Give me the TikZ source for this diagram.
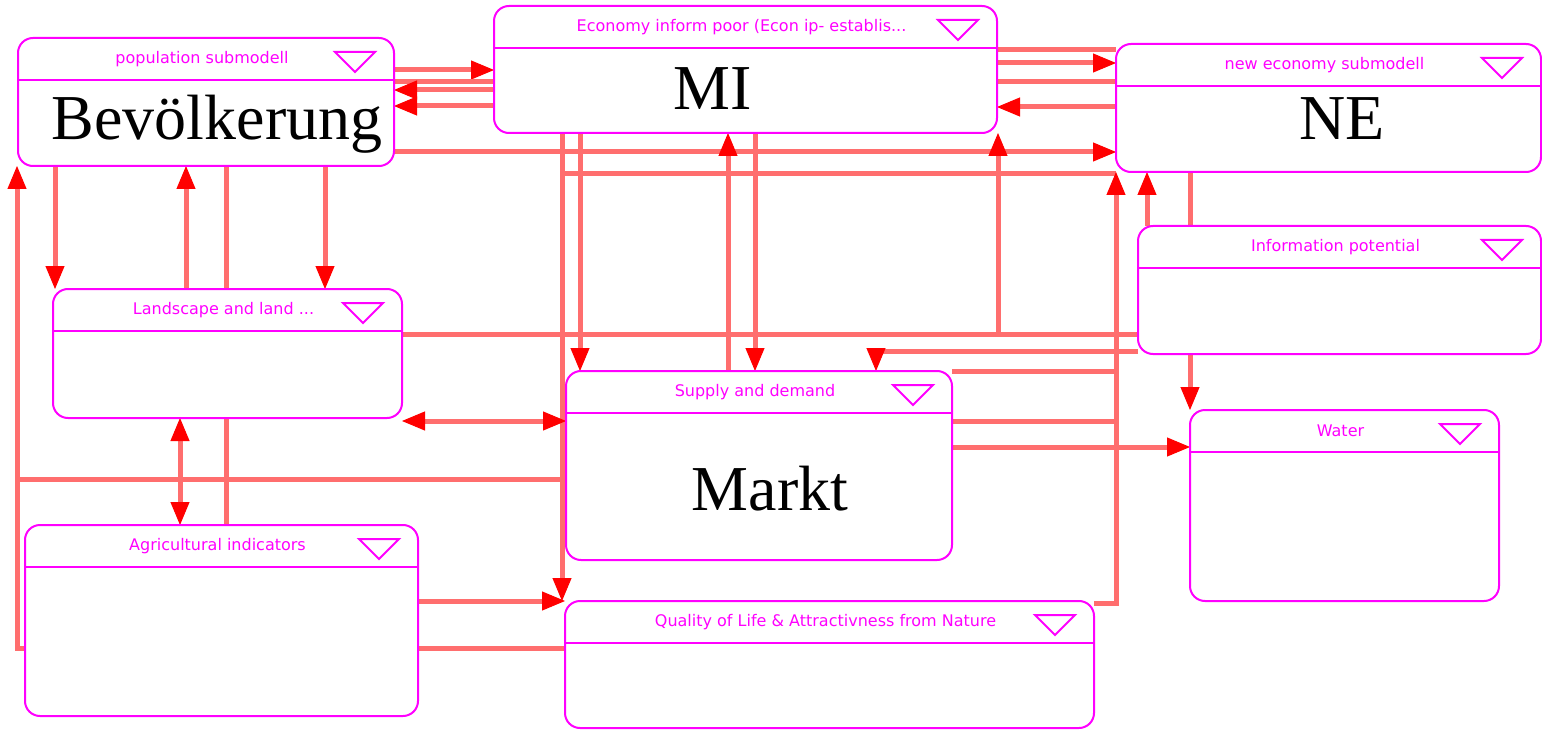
\documentclass[tikz,border=0pt]{standalone}
\usepackage{fontspec}
\setmainfont{Liberation Serif}
\newfontfamily\labfont{DejaVu Sans}
\usetikzlibrary{arrows.meta}
\definecolor{mag}{RGB}{255,0,255}
\definecolor{lnk}{RGB}{255,110,110}
\definecolor{tipred}{RGB}{255,0,0}
\pgfdeclarelayer{bg}
\pgfsetlayers{bg,main}
\tikzset{
  subm/.style={draw=mag, line width=2pt, fill=white, rounded corners=15pt, inner sep=0pt, outer sep=0pt},
  magline/.style={draw=mag, line width=2pt},
  ttl/.style={font=\labfont\fontsize{16}{18}\selectfont, text=mag, inner sep=0pt},
  big/.style={font=\fontsize{64}{70}\selectfont, inner sep=0pt, anchor=base},
  conn/.style={draw=lnk, line width=5pt},
  arr/.style={-{Triangle[length=23pt,width=19pt,line width=1pt,color=tipred]}},
  darr/.style={{Triangle[length=23pt,width=19pt,line width=1pt,color=tipred]}-{Triangle[length=23pt,width=19pt,line width=1pt,color=tipred]}}
}
\newcommand\submod[6]{%
  \node[subm, minimum width=#4pt, minimum height=#5pt] (#1) at (#2,#3) {};
  \draw[magline] ([yshift=-42pt]#1.north west) -- ([yshift=-42pt]#1.north east);
  \node[ttl] (#1-t) at ([xshift=-4pt,yshift=-21pt]#1.north) {#6};
  \draw[magline] ([xshift=-59pt,yshift=-14pt]#1.north east) -- ++(40pt,0) -- ++(-20pt,-20pt) -- cycle;
}
\begin{document}
\begin{tikzpicture}[x=1pt,y=-1pt]
\useasboundingbox (0,0) rectangle (1542,730);
% boxes
\submod{pop}{206}{102}{376}{128}{population submodell}
\submod{mi}{745.5}{69.5}{503}{127}{Economy inform poor (Econ ip- establis...}
\submod{ne}{1328.5}{108}{425}{128}{new economy submodell}
\submod{land}{227.5}{353.5}{349}{129}{Landscape and land ...}
\submod{info}{1339.5}{290}{403}{128}{Information potential}
\submod{sd}{759}{465.5}{386}{189}{Supply and demand}
\submod{water}{1344.5}{505.5}{309}{191}{Water}
\submod{agri}{221.5}{620.5}{393}{191}{Agricultural indicators}
\submod{qual}{829.5}{664.5}{529}{127}{Quality of Life \& Attractivness from Nature}
% big labels
\node[big] (bev) at (217,140) {Bevölkerung};
\node[big] (mitx) at (713,110) {MI};
\node[big] (netx) at (1342,140) {NE};
\node[big] (markt) at (770,510) {Markt};
% junction coordinates
\coordinate (j1) at (562,174);
\coordinate (jne1) at (1116,174);
\coordinate (jne2) at (1116,371);
\coordinate (jne3) at (1116,421);
\coordinate (j4) at (998,334);
\coordinate (jl1) at (17,479);
\coordinate (jl2) at (562,479);
\begin{pgfonlayer}{bg}
% population <-> MI
\draw[conn,arr] (pop.east |- 0,70) -- (mi.west |- 0,70);
\draw[conn] (pop.east |- 0,82) -- (mi.west |- 0,82);
\draw[conn,arr] (mi.west |- 0,90) -- (pop.east |- 0,90);
\draw[conn,arr] (mi.west |- 0,106) -- (pop.east |- 0,106);
\draw[conn,arr] (pop.east |- 0,152) -- (ne.west |- 0,152);
% MI <-> NE
\draw[conn] (mi.east |- 0,50) -- (ne.west |- 0,50);
\draw[conn,arr] (mi.east |- 0,63) -- (ne.west |- 0,63);
\draw[conn] (mi.east |- 0,82) -- (ne.west |- 0,82);
\draw[conn,arr] (ne.west |- 0,107) -- (mi.east |- 0,107);
% MI bottom
\draw[conn,arr] (562,0 |- mi.south) -- (562,0 |- qual.north);
\draw[conn,arr] (580,0 |- mi.south) -- (580,0 |- sd.north);
\draw[conn,arr] (755,0 |- mi.south) -- (755,0 |- sd.north);
\draw[conn,arr] (728,0 |- sd.north) -- (728,0 |- mi.south);
\draw[conn] (j1) -- (jne1);
\draw[conn,arr] ([yshift=-2pt]qual.north east) -| (1116,0 |- ne.south);
\draw[conn] (sd.east |- 0,371) -- (jne2);
\draw[conn] (sd.east |- 0,421) -- (jne3);
\draw[conn,arr] (sd.east |- 0,447) -- (water.west |- 0,447);
% information potential
\draw[conn] (land.east |- 0,334) -- (info.west |- 0,334);
\draw[conn,arr] (j4) -- (998,0 |- mi.south);
\draw[conn,arr] (info.west |- 0,351) -| (876,0 |- sd.north);
\draw[conn,arr] (1147,0 |- info.north) -- (1147,0 |- ne.south);
\draw[conn,arr] (1190,0 |- ne.south) -- (1190,0 |- water.north);
% left side
\draw[conn,arr] (55,0 |- pop.south) -- (55,0 |- land.north);
\draw[conn,arr] (186,0 |- land.north) -- (186,0 |- pop.south);
\draw[conn] (226,0 |- pop.south) -- (226,0 |- agri.north);
\draw[conn,arr] (325,0 |- pop.south) -- (325,0 |- land.north);
\draw[conn,darr] (180,0 |- land.south) -- (180,0 |- agri.north);
\draw[conn,darr] (land.east |- 0,421) -- (sd.west |- 0,421);
\draw[conn,arr] (agri.west |- 0,648) -| (17,0 |- pop.south);
\draw[conn] (jl1) -- (jl2);
\draw[conn,arr] (agri.east |- 0,601) -- (qual.west |- 0,601);
\draw[conn] (agri.east |- 0,648) -- (qual.west |- 0,648);
\end{pgfonlayer}
\end{tikzpicture}
\end{document}
